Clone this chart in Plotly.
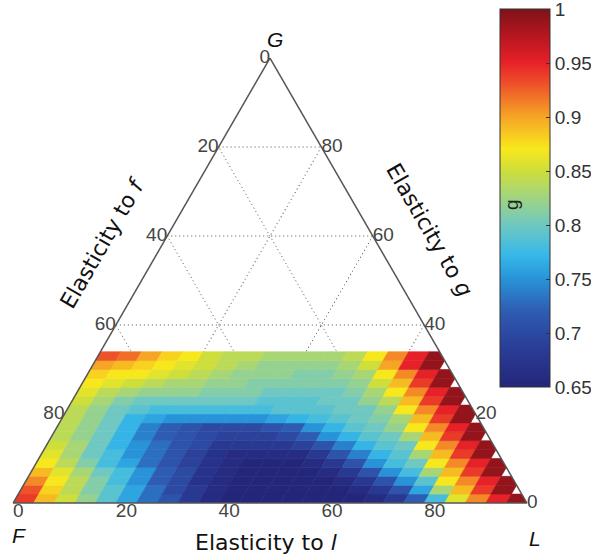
import plotly.graph_objects as go
from plotly.colors import sample_colorscale

# ---------------- data ----------------
# row edges in elasticity to g (percent), column edges in elasticity to l (percent)
G_EDGES = [0, 2, 4, 6, 8, 10, 12, 14, 16, 18, 20, 22, 24, 26, 28, 30, 32, 34]
L_EDGES = [0, 4, 8, 12, 16, 20, 24, 28, 32, 36, 40, 44, 48, 52, 56, 60, 64, 68, 72,
           76, 80, 84, 88, 92, 96, 100]

# g value per cell, rows from bottom (G=0) upward, columns from F side toward L side
ROW_00 = [0.94, 0.89, 0.85, 0.82, 0.79, 0.76, 0.73, 0.71, 0.68, 0.66, 0.65, 0.65, 0.65, 0.65, 0.65, 0.65, 0.65, 0.66, 0.68, 0.72, 0.78, 0.86, 0.91, 0.95, 0.99]
ROW_01 = [0.93, 0.88, 0.84, 0.81, 0.79, 0.76, 0.73, 0.70, 0.68, 0.66, 0.65, 0.65, 0.65, 0.65, 0.65, 0.65, 0.66, 0.68, 0.71, 0.76, 0.83, 0.89, 0.94, 0.99]
ROW_02 = [0.91, 0.87, 0.84, 0.81, 0.78, 0.75, 0.72, 0.70, 0.67, 0.66, 0.65, 0.65, 0.65, 0.65, 0.65, 0.66, 0.68, 0.71, 0.75, 0.79, 0.87, 0.91, 0.95, 0.99]
ROW_03 = [0.89, 0.86, 0.83, 0.80, 0.78, 0.75, 0.72, 0.70, 0.67, 0.66, 0.65, 0.65, 0.65, 0.65, 0.66, 0.68, 0.71, 0.75, 0.78, 0.83, 0.89, 0.94, 0.99]
ROW_04 = [0.87, 0.84, 0.81, 0.78, 0.76, 0.73, 0.71, 0.69, 0.67, 0.66, 0.65, 0.65, 0.65, 0.66, 0.68, 0.71, 0.75, 0.78, 0.80, 0.87, 0.91, 0.95, 0.99]
ROW_05 = [0.86, 0.83, 0.80, 0.78, 0.75, 0.73, 0.71, 0.69, 0.67, 0.66, 0.66, 0.66, 0.66, 0.68, 0.71, 0.74, 0.77, 0.79, 0.83, 0.89, 0.94, 0.99]
ROW_06 = [0.85, 0.83, 0.80, 0.77, 0.75, 0.73, 0.71, 0.70, 0.68, 0.68, 0.68, 0.68, 0.69, 0.71, 0.74, 0.77, 0.79, 0.80, 0.87, 0.91, 0.95, 0.99]
ROW_07 = [0.84, 0.82, 0.80, 0.77, 0.74, 0.72, 0.71, 0.70, 0.69, 0.69, 0.69, 0.70, 0.72, 0.75, 0.77, 0.79, 0.80, 0.83, 0.89, 0.94, 0.99]
ROW_08 = [0.84, 0.82, 0.80, 0.77, 0.74, 0.72, 0.71, 0.70, 0.70, 0.70, 0.71, 0.72, 0.75, 0.77, 0.79, 0.80, 0.82, 0.87, 0.91, 0.95, 0.99]
ROW_09 = [0.84, 0.82, 0.80, 0.77, 0.76, 0.75, 0.75, 0.75, 0.75, 0.75, 0.76, 0.77, 0.78, 0.79, 0.80, 0.81, 0.83, 0.89, 0.94, 0.99]
ROW_10 = [0.84, 0.82, 0.80, 0.79, 0.78, 0.78, 0.78, 0.78, 0.78, 0.78, 0.79, 0.79, 0.79, 0.80, 0.80, 0.82, 0.87, 0.91, 0.95, 0.99]
ROW_11 = [0.85, 0.83, 0.81, 0.80, 0.80, 0.80, 0.80, 0.80, 0.80, 0.79, 0.79, 0.79, 0.80, 0.80, 0.82, 0.84, 0.89, 0.94, 0.99]
ROW_12 = [0.86, 0.84, 0.83, 0.82, 0.82, 0.82, 0.81, 0.81, 0.81, 0.80, 0.80, 0.80, 0.80, 0.81, 0.83, 0.87, 0.91, 0.95, 0.99]
ROW_13 = [0.87, 0.86, 0.85, 0.84, 0.83, 0.83, 0.82, 0.82, 0.81, 0.81, 0.81, 0.81, 0.81, 0.82, 0.85, 0.89, 0.94, 0.99]
ROW_14 = [0.88, 0.87, 0.87, 0.86, 0.85, 0.84, 0.83, 0.82, 0.82, 0.82, 0.81, 0.81, 0.82, 0.83, 0.87, 0.91, 0.95, 0.99]
ROW_15 = [0.90, 0.89, 0.88, 0.87, 0.86, 0.85, 0.84, 0.83, 0.82, 0.82, 0.82, 0.82, 0.83, 0.85, 0.90, 0.95, 0.99]
ROW_16 = [0.93, 0.92, 0.90, 0.88, 0.87, 0.85, 0.84, 0.84, 0.83, 0.83, 0.83, 0.83, 0.84, 0.87, 0.91, 0.95, 0.99]
ROWS = [ROW_00, ROW_01, ROW_02, ROW_03, ROW_04, ROW_05, ROW_06, ROW_07, ROW_08,
        ROW_09, ROW_10, ROW_11, ROW_12, ROW_13, ROW_14, ROW_15, ROW_16]

VMIN, VMAX = 0.65, 1.0
CBAR_TICKS = [0.65, 0.7, 0.75, 0.8, 0.85, 0.9, 0.95, 1.0]
CBAR_LABELS = ["0.65", "0.7", "0.75", "0.8", "0.85", "0.9", "0.95", "1"]

# gridline levels (percent) and the tick labels printed along each edge
GRID_LEVELS = [20, 40, 60, 80]
LEFT_G = [100, 80, 60, 40, 20]          # g at left-edge labels
LEFT_LABELS = ["0", "20", "40", "60", "80"]   # = elasticity to f there
BOTTOM_L = [0, 20, 40, 60, 80]
BOTTOM_LABELS = ["0", "20", "40", "60", "80"]
RIGHT_G = [0, 20, 40, 60, 80]
RIGHT_LABELS = ["0", "20", "40", "60", "80"]

# ---------------- style ----------------
CSCALE = [
    [0.00, "rgb(36,38,122)"],
    [0.10, "rgb(42,60,150)"],
    [0.20, "rgb(46,92,178)"],
    [0.29, "rgb(40,150,218)"],
    [0.35, "rgb(55,185,232)"],
    [0.43, "rgb(112,200,192)"],
    [0.50, "rgb(160,212,130)"],
    [0.57, "rgb(205,222,60)"],
    [0.63, "rgb(248,232,28)"],
    [0.72, "rgb(246,160,38)"],
    [0.80, "rgb(238,82,40)"],
    [0.86, "rgb(230,32,40)"],
    [0.93, "rgb(182,22,32)"],
    [1.00, "rgb(125,18,25)"],
]
TICK_FONT = dict(family="Liberation Sans, Arial", size=19, color="#444444")
LABEL_FONT = dict(family="DejaVu Sans", size=22, color="#111111")
VERTEX_FONT = dict(family="Liberation Sans, Arial", size=21, color="#111111")


def cell_polygon(g0, g1, l0, l1):
    pts = [(g0, l0), (g0, l1)]
    if g1 + l1 > 100 + 1e-9:
        pts += [(100 - l1, l1), (g1, 100 - g1)]
    else:
        pts += [(g1, l1)]
    pts += [(g1, l0), (g0, l0)]
    return pts


fig = go.Figure()

# colorbar carrier
fig.add_trace(go.Scatterternary(
    a=[1], b=[98], c=[1], mode="markers",
    marker=dict(size=1, color=[VMIN], colorscale=CSCALE, cmin=VMIN, cmax=VMAX,
                showscale=True,
                colorbar=dict(
                    x=500 / 591, xanchor="left", xpad=0,
                    y=1 - 9 / 557, yanchor="top", ypad=0,
                    len=378 / 557, lenmode="fraction", thickness=50,
                    outlinewidth=1, outlinecolor="#333333",
                    tickmode="array", tickvals=CBAR_TICKS, ticktext=CBAR_LABELS,
                    ticks="inside", ticklen=4, tickcolor="#333333",
                    ticklabeloverflow="allow",
                    tickfont=dict(family="Liberation Sans, Arial", size=19, color="#333333"),
                )),
    hoverinfo="skip", showlegend=False,
))

for i, row in enumerate(ROWS):
    g0, g1 = G_EDGES[i], G_EDGES[i + 1]
    for j, v in enumerate(row):
        l0, l1 = L_EDGES[j], L_EDGES[j + 1]
        pts = cell_polygon(g0, g1, l0, l1)
        col = sample_colorscale(CSCALE, [(v - VMIN) / (VMAX - VMIN)])[0]
        fig.add_trace(go.Scatterternary(
            a=[p[0] for p in pts],
            b=[100 - p[0] - p[1] for p in pts],
            c=[p[1] for p in pts],
            mode="lines", fill="toself", fillcolor=col,
            line=dict(color=col, width=0.6),
            hoverinfo="skip", showlegend=False,
        ))

# edge tick labels as text placed at the edge points
fig.add_trace(go.Scatterternary(
    a=LEFT_G, b=[100 - g for g in LEFT_G], c=[0] * len(LEFT_G),
    mode="text", text=LEFT_LABELS, textposition="middle left",
    textfont=TICK_FONT, cliponaxis=False, hoverinfo="skip", showlegend=False))
fig.add_trace(go.Scatterternary(
    a=[0] * len(BOTTOM_L), b=[100 - l for l in BOTTOM_L], c=BOTTOM_L,
    mode="text", text=BOTTOM_LABELS, textposition="bottom right",
    textfont=TICK_FONT, cliponaxis=False, hoverinfo="skip", showlegend=False))
fig.add_trace(go.Scatterternary(
    a=RIGHT_G, b=[0] * len(RIGHT_G), c=[100 - g for g in RIGHT_G],
    mode="text", text=RIGHT_LABELS, textposition="middle right",
    textfont=TICK_FONT, cliponaxis=False, hoverinfo="skip", showlegend=False))

axis_common = dict(
    showline=True, linecolor="#555555", linewidth=1.5,
    showgrid=True, gridcolor="#555555", gridwidth=1.3, griddash="1px,3px",
    ticks="", showticklabels=False, tickmode="array", tickvals=GRID_LEVELS,
    title=dict(text=""),
)

fig.update_layout(
    width=591, height=557,
    margin=dict(l=0, r=0, t=0, b=0, autoexpand=False),
    paper_bgcolor="white",
    ternary=dict(
        sum=100,
        bgcolor="white",
        domain=dict(x=[13 / 591, 527 / 591], y=[(557 - 503) / 557, (557 - 58) / 557]),
        aaxis=axis_common,
        baxis=axis_common,
        caxis=axis_common,
    ),
    annotations=[
        dict(text="Elasticity to <i>f</i>", x=102 / 591, y=1 - 243 / 557, xref="paper", yref="paper",
             xanchor="center", yanchor="middle", showarrow=False, textangle=-60, font=LABEL_FONT),
        dict(text="Elasticity to <i>g</i>", x=430 / 591, y=1 - 230 / 557, xref="paper", yref="paper",
             xanchor="center", yanchor="middle", showarrow=False, textangle=60, font=LABEL_FONT),
        dict(text="Elasticity to <i>l</i>", x=266 / 591, y=1 - 542 / 557, xref="paper", yref="paper",
             xanchor="center", yanchor="middle", showarrow=False, font=LABEL_FONT),
        dict(text="<i>G</i>", x=275 / 591, y=1 - 39 / 557, xref="paper", yref="paper",
             xanchor="center", yanchor="middle", showarrow=False, font=VERTEX_FONT),
        dict(text="<i>F</i>", x=19 / 591, y=1 - 535 / 557, xref="paper", yref="paper",
             xanchor="center", yanchor="middle", showarrow=False, font=VERTEX_FONT),
        dict(text="<i>L</i>", x=535 / 591, y=1 - 538 / 557, xref="paper", yref="paper",
             xanchor="center", yanchor="middle", showarrow=False, font=VERTEX_FONT),
        dict(text="g", x=512 / 591, y=1 - 205 / 557, xref="paper", yref="paper",
             xanchor="center", yanchor="middle", showarrow=False, textangle=-90,
             font=dict(family="Liberation Sans, Arial", size=19, color="#222222")),
    ],
)

fig.write_html("out.html", config={"displayModeBar": False},
               post_script="document.body.style.margin='0px';")
